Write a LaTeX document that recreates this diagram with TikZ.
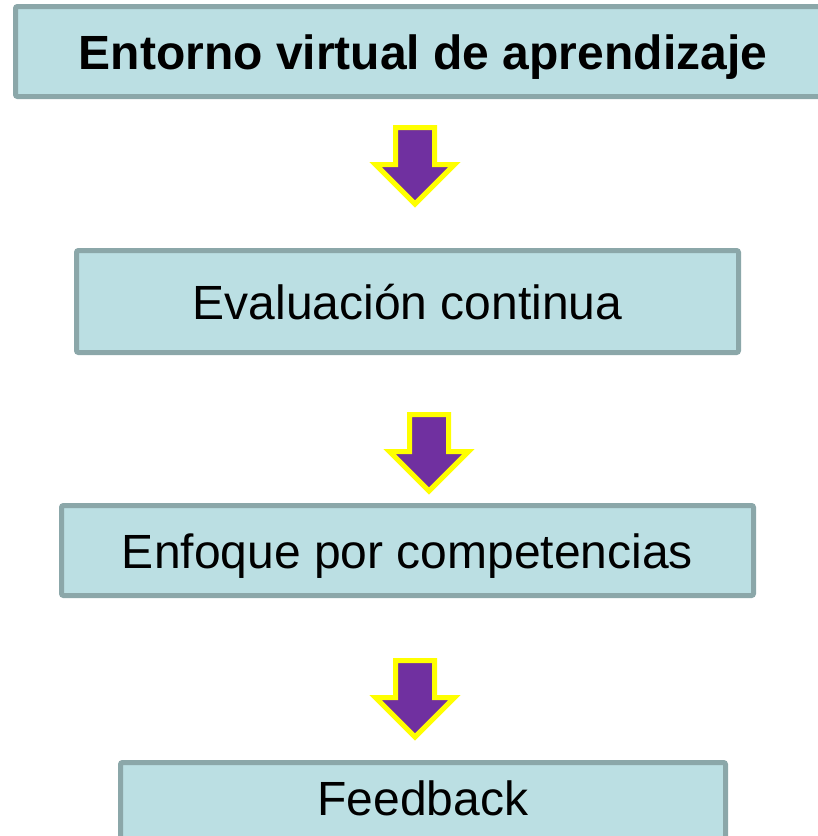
\documentclass[tikz,border=0pt]{standalone}
\usepackage{fontspec}
\setmainfont{Liberation Sans}
\definecolor{boxFill}{HTML}{BBDFE3}
\definecolor{boxBorder}{HTML}{8BA7A9}
\definecolor{arrowPurple}{HTML}{7030A0}
\definecolor{arrowYellow}{HTML}{FFFF00}

\begin{document}
\begin{tikzpicture}[x=1pt,y=-1pt,
    stage/.style={draw=boxBorder, fill=boxFill, line width=5pt, rounded corners=2pt,
        inner sep=0pt, text height=35pt, text depth=0pt, font=\fontsize{48}{56}\selectfont},
    downArrow/.pic={\draw[fill=arrowPurple, draw=arrowYellow, line width=5pt]
        (-19.5,0) -- (19.5,0) -- (19.5,37) -- (39.5,37) -- (0,76.5) -- (-39.5,37) -- (-19.5,37) -- cycle;}]
    \useasboundingbox (0,0) rectangle (818,836);
    \node[stage, minimum width=815pt, minimum height=90pt] (entorno) at (423,51.5) {\bfseries Entorno virtual de aprendizaje};
    \node[stage, minimum width=662pt, minimum height=102pt] (evaluacion) at (407.5,301.5) {Evaluación continua};
    \node[stage, minimum width=692pt, minimum height=90pt] (enfoque) at (407.5,550.5) {Enfoque por competencias};
    \node[stage, minimum width=605pt, minimum height=90pt, text depth=20pt] (feedback) at (423,807.5) {Feedback};
    % block arrows between the stages
    \pic at (415,127.5) {downArrow};
    \pic at (429,414.5) {downArrow};
    \pic at (415,660.5) {downArrow};
\end{tikzpicture}
\end{document}
